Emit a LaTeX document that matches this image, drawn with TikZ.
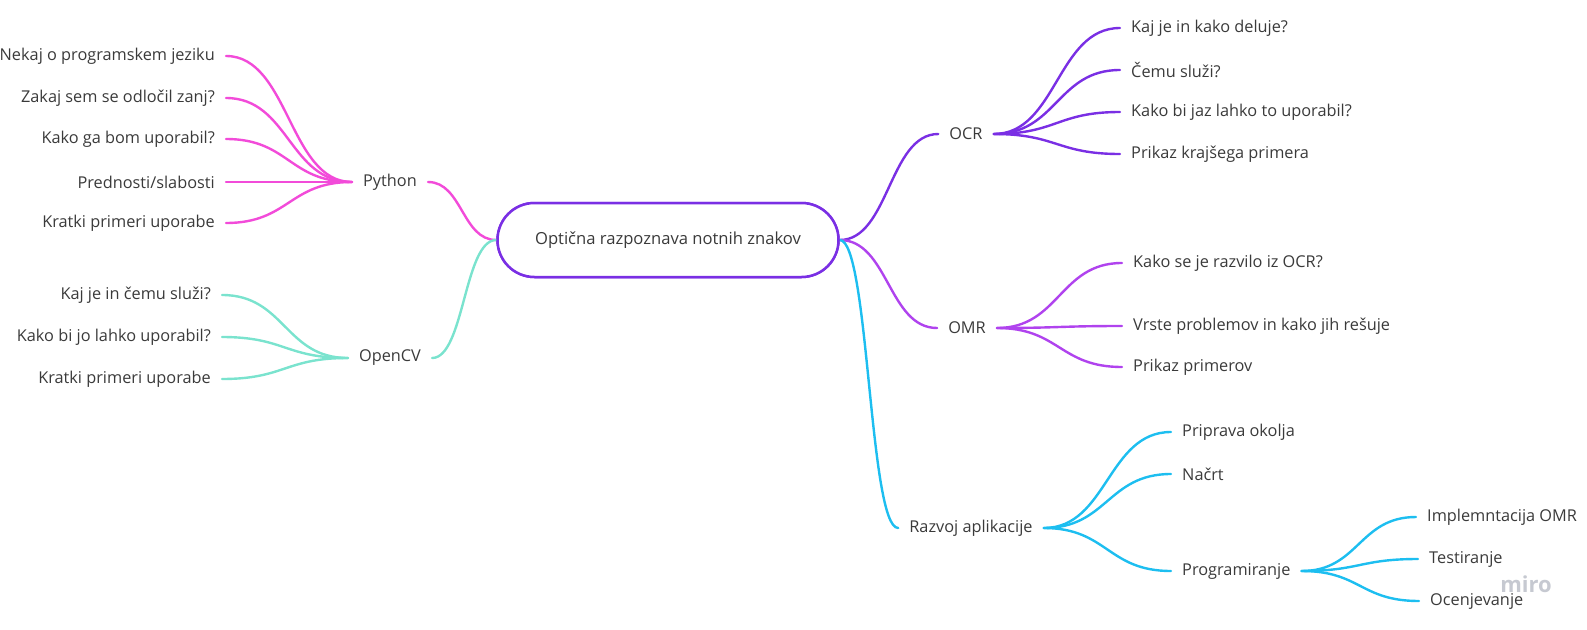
\documentclass[tikz,border=0pt]{standalone}
\usepackage{fontspec}
\setmainfont{Open Sans}
\usetikzlibrary{calc}
\definecolor{txt}{HTML}{3A3A3A}
\definecolor{cpink}{HTML}{F24BD9}
\definecolor{cteal}{HTML}{7AE3CE}
\definecolor{cocr}{HTML}{7A2FE4}
\definecolor{comr}{HTML}{B043EE}
\definecolor{ccyan}{HTML}{1DBEF0}
\definecolor{cmiro}{HTML}{C6C9D1}
\begin{document}
\begin{tikzpicture}[x=1pt,y=-1pt,
  lbl/.style={font=\fontsize{16.3}{19}\selectfont, text=txt, inner xsep=11pt, inner ysep=2pt},
  lleaf/.style={lbl, anchor=east},
  rleaf/.style={lbl, anchor=west},
  central/.style={lbl, font=\fontsize{16.6}{19}\selectfont, draw=cocr, line width=2.5pt, rounded corners=37pt, minimum width=341pt, minimum height=74pt, fill=white},
  link/.style={line width=2.4pt, line cap=round,
    to path={let \p1=(\tikztostart), \p2=(\tikztotarget) in
      .. controls ({0.5*(\x1+\x2)},\y1) and ({0.5*(\x1+\x2)},\y2) .. (\tikztotarget)}}
]
\useasboundingbox (0,0) rectangle (1587,629);

% nodes
\node[central] (root) at (668,240) {Optična razpoznava notnih znakov};

\node[lbl] (py) at (390,182) {Python};
\node[lbl] (cv) at (390,358) {OpenCV};
\node[lbl] (ocr) at (966,134) {OCR};
\node[lbl] (omr) at (967,328) {OMR};
\node[lbl] (raz) at (971,528) {Razvoj aplikacije};
\node[rleaf] (prog) at (1171,571) {Programiranje};

\node[lleaf] (p1) at (226,56) {Nekaj o programskem jeziku};
\node[lleaf] (p2) at (226,98) {Zakaj sem se odločil zanj?};
\node[lleaf] (p3) at (226,139) {Kako ga bom uporabil?};
\node[lleaf] (p4) at (226,182) {Prednosti/slabosti};
\node[lleaf] (p5) at (226,223) {Kratki primeri uporabe};

\node[lleaf] (c1) at (222,295) {Kaj je in čemu služi?};
\node[lleaf] (c2) at (222,337) {Kako bi jo lahko uporabil?};
\node[lleaf] (c3) at (222,379) {Kratki primeri uporabe};

\node[rleaf] (o1) at (1120,28) {Kaj je in kako deluje?};
\node[rleaf] (o2) at (1120,70) {Čemu služi?};
\node[rleaf] (o3) at (1120,112) {Kako bi jaz lahko to uporabil?};
\node[rleaf] (o4) at (1120,154) {Prikaz krajšega primera};

\node[rleaf] (m1) at (1122,263) {Kako se je razvilo iz OCR?};
\node[rleaf] (m2) at (1122,326) {Vrste problemov in kako jih rešuje};
\node[rleaf] (m3) at (1122,367) {Prikaz primerov};

\node[rleaf] (r1) at (1171,432) {Priprava okolja};
\node[rleaf] (r2) at (1171,474) {Načrt};

\node[rleaf] (g1) at (1416,517) {Implemntacija OMR};
\node[rleaf] (g2) at (1418,559) {Testiranje};
\node[rleaf] (g3) at (1419,601) {Ocenjevanje};

\node[font=\fontsize{22}{24}\selectfont\bfseries, text=cmiro, inner sep=0pt] (miro) at (1526,584) {miro};

% connectors
\begin{scope}[cpink]
\draw[link] (p1.east) to (py.west);
\draw[link] (p2.east) to (py.west);
\draw[link] (p3.east) to (py.west);
\draw[link] (p4.east) to (py.west);
\draw[link] (p5.east) to (py.west);
\draw[link] (py.east) to (root.west);
\end{scope}
\begin{scope}[cteal]
\draw[link] (c1.east) to (cv.west);
\draw[link] (c2.east) to (cv.west);
\draw[link] (c3.east) to (cv.west);
\draw[link] (cv.east) to (root.west);
\end{scope}
\begin{scope}[cocr]
\draw[link] (root.east) to (ocr.west);
\draw[link] (ocr.east) to (o1.west);
\draw[link] (ocr.east) to (o2.west);
\draw[link] (ocr.east) to (o3.west);
\draw[link] (ocr.east) to (o4.west);
\end{scope}
\begin{scope}[comr]
\draw[link] (root.east) to (omr.west);
\draw[link] (omr.east) to (m1.west);
\draw[link] (omr.east) to (m2.west);
\draw[link] (omr.east) to (m3.west);
\end{scope}
\begin{scope}[ccyan]
\draw[link] (root.east) to (raz.west);
\draw[link] (raz.east) to (r1.west);
\draw[link] (raz.east) to (r2.west);
\draw[link] (raz.east) to (prog.west);
\draw[link] (prog.east) to (g1.west);
\draw[link] (prog.east) to (g2.west);
\draw[link] (prog.east) to (g3.west);
\end{scope}

% redraw central node on top
\node[central] at (668,240) {Optična razpoznava notnih znakov};
\end{tikzpicture}
\end{document}
